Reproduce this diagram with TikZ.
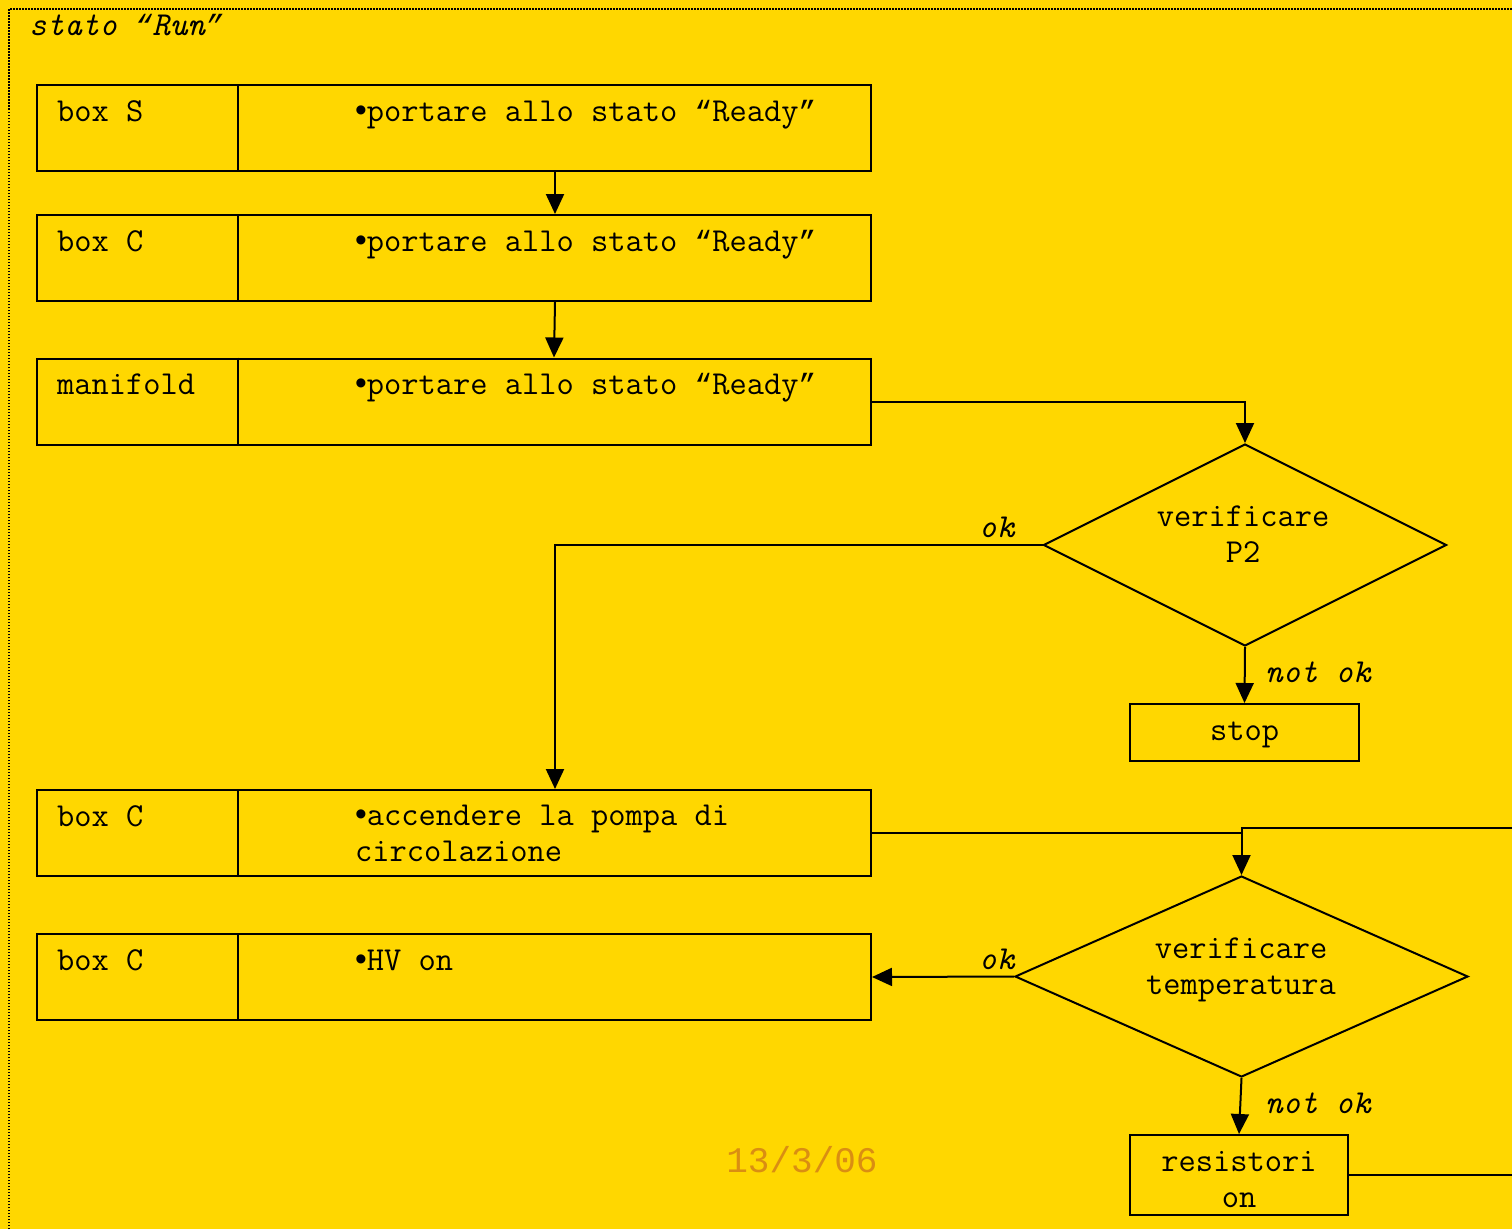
\documentclass[tikz,border=0pt]{standalone}
\usepackage{fontspec}
\newfontfamily\bulletfont{Liberation Sans}
\newfontfamily\quotefont{Liberation Mono}
\newfontfamily\datefont{Liberation Mono}
\usetikzlibrary{arrows.meta,shapes.geometric}
\definecolor{panel}{RGB}{255,215,0}
\definecolor{datecol}{RGB}{218,142,18}
% curly quotes taken from a face that has slanted ones
\newcommand\quoted[1]{{\quotefont\fontsize{29.3}{35.2}\selectfont “}#1{\quotefont\fontsize{29.3}{35.2}\selectfont ”}}

\tikzset{
  txt/.style={font=\ttfamily\fontsize{33.5}{35.2}\selectfont, inner sep=0pt},
  lbl/.style={font=\ttfamily\itshape\fontsize{33.5}{35.2}\selectfont, inner sep=0pt},
  rowbox/.style={draw, line width=2pt, minimum width=834pt, minimum height=86pt, inner sep=0pt},
  endbox/.style={draw, line width=2pt, inner sep=0pt},
  decision/.style={draw, diamond, line width=2pt, inner sep=0pt},
  flow/.style={line width=2pt, -{Triangle[length=20pt,width=18pt]}},
  wire/.style={line width=2pt},
  frame/.style={line width=1.5pt, dash pattern=on 1.5pt off 1.5pt},
}

\begin{document}
\begin{tikzpicture}[x=1pt,y=-1pt]
  % canvas
  \fill[panel] (0,0) rectangle (1512,1229);
  \useasboundingbox (0,0) rectangle (1512,1229);
  \draw[frame] (9,1229) -- (9,9) -- (1512,9);
  \node[lbl, anchor=base west] (title) at (29,35) {stato \quoted{Run}};

  % task rows: who does it | what to do
  \node[rowbox] (r1) at (454,128) {};
  \node[rowbox] (r2) at (454,258) {};
  \node[rowbox] (r3) at (454,401.5) {};
  \node[rowbox] (r4) at (454,833) {};
  \node[rowbox] (r5) at (454,977) {};
  \foreach \r in {r1,r2,r3,r4,r5}
    \draw[wire] ([xshift=202pt]\r.north west) -- ([xshift=202pt]\r.south west);

  \node[txt, anchor=base west] (r1who) at (57,121) {box S};
  \node[txt, anchor=base west] (r2who) at (57,251) {box C};
  \node[txt, anchor=base west] (r3who) at (57,394) {manifold};
  \node[txt, anchor=base west] (r4who) at (57,826) {box C};
  \node[txt, anchor=base west] (r5who) at (57,970) {box C};

  \node[txt, anchor=base west] (r1what) at (355,121) {{\bulletfont •}portare allo stato \quoted{Ready}};
  \node[txt, anchor=base west] (r2what) at (355,251) {{\bulletfont •}portare allo stato \quoted{Ready}};
  \node[txt, anchor=base west] (r3what) at (355,394) {{\bulletfont •}portare allo stato \quoted{Ready}};
  \node[txt, anchor=base west, align=left] (r4what) at (355,861) {{\bulletfont •}accendere la pompa di\\circolazione};
  \node[txt, anchor=base west] (r5what) at (355,970) {{\bulletfont •}HV on};

  % checks
  \node[decision, minimum width=403pt, minimum height=202pt] (d1) at (1245,545) {};
  \node[txt, align=center, anchor=base] (d1txt) at (1243,562) {verificare\\P2};
  \node[decision, minimum width=453pt, minimum height=201pt] (d2) at (1241.5,976.5) {};
  \node[txt, align=center, anchor=base] (d2txt) at (1241,994) {verificare\\temperatura};

  \node[endbox, minimum width=229pt, minimum height=57pt] (stop) at (1244.5,732.5) {};
  \node[txt, anchor=base] (stoptxt) at (1244.5,740) {stop};
  \node[endbox, minimum width=218pt, minimum height=80pt] (res) at (1239,1175) {};
  \node[txt, align=center, anchor=base] (restxt) at (1239,1207) {resistori\\on};

  \coordinate (loopin) at (1512,828);
  \coordinate (resout) at (1512,1175);

  % connectors
  \draw[flow] ([xshift=101pt]r1.south) -- ([xshift=101pt]r2.north);
  \draw[flow] ([xshift=101pt]r2.south) -- ([xshift=100pt]r3.north);
  \draw[flow] (r3.east) -| (d1.north);
  \draw[flow] (d1.west) -| ([xshift=101pt]r4.north);
  \draw[flow] (d1.south) -- (stop.north);
  \draw[flow] (r4.east) -| (d2.north);
  \draw[wire] (loopin) -| (r4.east -| d2.north);
  \draw[flow] (d2.west) -- (r5.east);
  \draw[flow] (d2.south) -- (res.north);
  \draw[wire] (res.east) -- (resout);

  % branch labels
  \node[lbl, anchor=base west] (ok1) at (979,537) {ok};
  \node[lbl, anchor=base west] (nok1) at (1265,682) {not ok};
  \node[lbl, anchor=base west] (ok2) at (979,969) {ok};
  \node[lbl, anchor=base west] (nok2) at (1265,1113) {not ok};

  % date stamp
  \node[font=\datefont\fontsize{36}{40}\selectfont, text=datecol, inner sep=0pt] (date) at (802,1160) {13/3/06};
\end{tikzpicture}
\end{document}
